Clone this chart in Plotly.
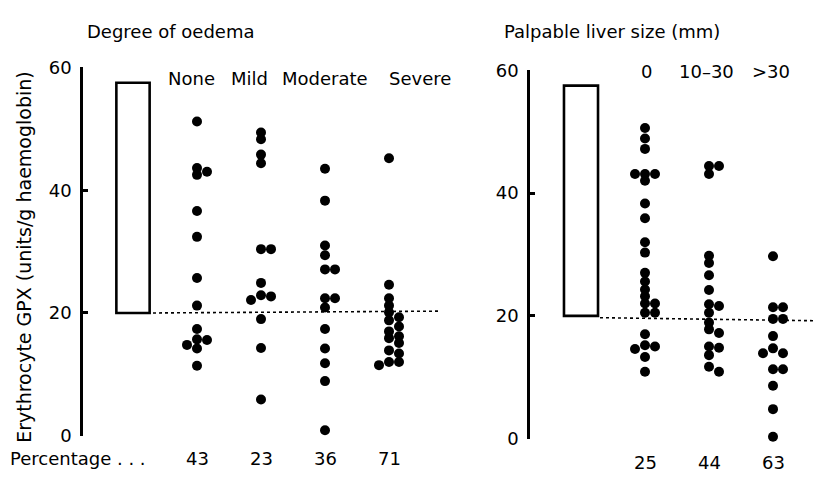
import plotly.graph_objects as go

# ---------------- data ----------------
oedema_cats = ["None", "Mild", "Moderate", "Severe"]
oedema_pct = [43, 23, 36, 71]
gpx_none = [51.2, 43.6, 43.0, 42.5, 36.6, 32.4, 25.7, 21.2, 17.4, 15.7, 15.6, 14.8, 14.2, 11.4]
gpx_mild = [49.4, 48.3, 45.8, 44.4, 30.4, 30.4, 24.9, 22.9, 22.7, 22.1, 19.0, 14.3, 5.9]
gpx_moderate = [43.5, 38.3, 31.0, 29.4, 27.1, 27.1, 22.4, 22.4, 20.9, 17.4, 14.2, 11.8, 8.9, 0.9]
gpx_severe = [45.2, 24.6, 22.4, 21.2, 20.1, 19.3, 18.8, 17.8, 17.0, 16.2, 15.9, 15.1,
              13.9, 13.4, 12.0, 12.0, 11.5]

liver_cats = ["0", "10–30", ">30"]
liver_pct = [25, 44, 63]
gpx_liver_0 = [50.6, 48.9, 47.2, 43.1, 43.1, 43.1, 42.0, 38.3, 35.9, 32.0, 30.3, 27.0, 25.6,
               24.3, 23.2, 22.0, 22.0, 20.5, 20.5, 17.0, 15.2, 15.0, 14.6, 13.3, 10.9]
gpx_liver_10_30 = [44.4, 44.4, 43.1, 29.8, 28.6, 26.6, 24.2, 21.9, 21.6, 20.5, 18.9, 17.8,
                   17.2, 15.0, 14.8, 13.6, 11.7, 10.9]
gpx_liver_gt30 = [29.7, 21.4, 21.4, 19.5, 19.5, 16.7, 14.7, 13.9, 13.9, 11.3, 11.3, 8.6, 4.8, 0.3]

normal_range = [20.0, 57.5]          # reference range box
cutoff_left = [20.0, 20.3]           # dotted line, start/end value
cutoff_right = [19.7, 19.2]

y_ticks = [0, 20, 40, 60]

# ---------------- layout constants ----------------
W, H = 817, 484
FONT = "DejaVu Sans"
UNIT = 64.0                  # px per category step
L_AX, L_END, L_ZERO = 83, 470, 133
R_AX, R_END, R_ZERO = 530, 817, 581
L_YTOP, L_YBOT = 59, 444
R_YTOP, R_YBOT = 62, 447
PX_PER_Y = (L_YBOT - L_YTOP) / 60.0


def swarm(values, step_px=10.0, dmin=7.0):
    placed, out = [], []
    cands = [0]
    for i in range(1, 6):
        cands += [i, -i]
    for v in values:
        ypx = v * PX_PER_Y
        for c in cands:
            dx = c * step_px
            if all((dx - px) ** 2 + (ypx - py) ** 2 >= dmin ** 2 for px, py in placed):
                break
        placed.append((dx, ypx))
        out.append(dx / UNIT)
    return out


fig = go.Figure()

marker = dict(color="black", size=10, line=dict(width=0))

for i, vals in enumerate([gpx_none, gpx_mild, gpx_moderate, gpx_severe]):
    offs = swarm(vals)
    fig.add_trace(go.Scatter(x=[i + 1 + o for o in offs], y=vals, mode="markers",
                             marker=marker, xaxis="x", yaxis="y", cliponaxis=False,
                             hoverinfo="y"))
for i, vals in enumerate([gpx_liver_0, gpx_liver_10_30, gpx_liver_gt30]):
    offs = swarm(vals)
    fig.add_trace(go.Scatter(x=[i + 1 + o for o in offs], y=vals, mode="markers",
                             marker=marker, xaxis="x2", yaxis="y2", cliponaxis=False,
                             hoverinfo="y"))

# dotted lines
fig.add_trace(go.Scatter(x=[(153 - L_ZERO) / UNIT, (440 - L_ZERO) / UNIT], y=cutoff_left,
                         mode="lines", line=dict(color="black", width=1.6, dash="dot"),
                         xaxis="x", yaxis="y", hoverinfo="skip"))
fig.add_trace(go.Scatter(x=[(600 - R_ZERO) / UNIT, (816 - R_ZERO) / UNIT], y=cutoff_right,
                         mode="lines", line=dict(color="black", width=1.6, dash="dot"),
                         xaxis="x2", yaxis="y2", hoverinfo="skip"))

# reference range boxes
fig.add_shape(type="rect", xref="x", yref="y", x0=-0.26, x1=0.26,
              y0=normal_range[0], y1=normal_range[1], line=dict(color="black", width=2.6))
fig.add_shape(type="rect", xref="x2", yref="y2", x0=-0.266, x1=0.266,
              y0=normal_range[0], y1=normal_range[1], line=dict(color="black", width=2.6))

yax = dict(range=[0, 60], tickvals=y_ticks, showline=True, linecolor="black", linewidth=2.6,
           ticks="inside", ticklen=5, tickwidth=2.6, tickcolor="black", showgrid=False,
           zeroline=False, tickfont=dict(family=FONT, size=18, color="black"),
           ticklabelstandoff=5)
xax = dict(visible=False, showgrid=False, zeroline=False)

fig.update_layout(
    width=W, height=H, margin=dict(l=0, r=0, t=0, b=0),
    paper_bgcolor="white", plot_bgcolor="white", showlegend=False,
    font=dict(family=FONT, size=18, color="black"),
    xaxis=dict(xax, domain=[L_AX / W, L_END / W],
               range=[(L_AX - L_ZERO) / UNIT, (L_END - L_ZERO) / UNIT]),
    yaxis=dict(yax, domain=[1 - L_YBOT / H, 1 - L_YTOP / H], anchor="x"),
    xaxis2=dict(xax, domain=[R_AX / W, 1.0],
                range=[(R_AX - R_ZERO) / UNIT, (W - R_ZERO) / UNIT]),
    yaxis2=dict(yax, domain=[1 - R_YBOT / H, 1 - R_YTOP / H], anchor="x2"),
)

ann = []


def txt(text, xpx, ypx, xanchor="center", size=18, angle=0):
    ann.append(dict(text=text, xref="paper", yref="paper", x=xpx / W, y=1 - ypx / H,
                    xanchor=xanchor, yanchor="middle", showarrow=False, textangle=angle,
                    font=dict(family=FONT, size=size, color="black")))


txt("Degree of oedema", 85, 21, "left")
txt("Palpable liver size (mm)", 502, 21, "left")
txt("Erythrocyte GPX (units/g haemoglobin)", 24, 257, angle=-90, size=19)

for lab, xpx in zip(oedema_cats, [191, 249, 325, 420]):
    txt(lab, xpx, 71)
for lab, xpx in zip(liver_cats, [646, 706, 771]):
    txt(lab, xpx, 63)

txt("Percentage . . .", 8, 468, "left")
for i, p in enumerate(oedema_pct):
    ann.append(dict(text=str(p), xref="x", yref="paper", x=i + 1, y=1 - 468 / H,
                    xanchor="center", yanchor="middle", showarrow=False,
                    font=dict(family=FONT, size=18, color="black")))
for i, p in enumerate(liver_pct):
    ann.append(dict(text=str(p), xref="x2", yref="paper", x=i + 1, y=1 - 472 / H,
                    xanchor="center", yanchor="middle", showarrow=False,
                    font=dict(family=FONT, size=18, color="black")))

fig.update_layout(annotations=ann)
fig.write_html("out.html")
